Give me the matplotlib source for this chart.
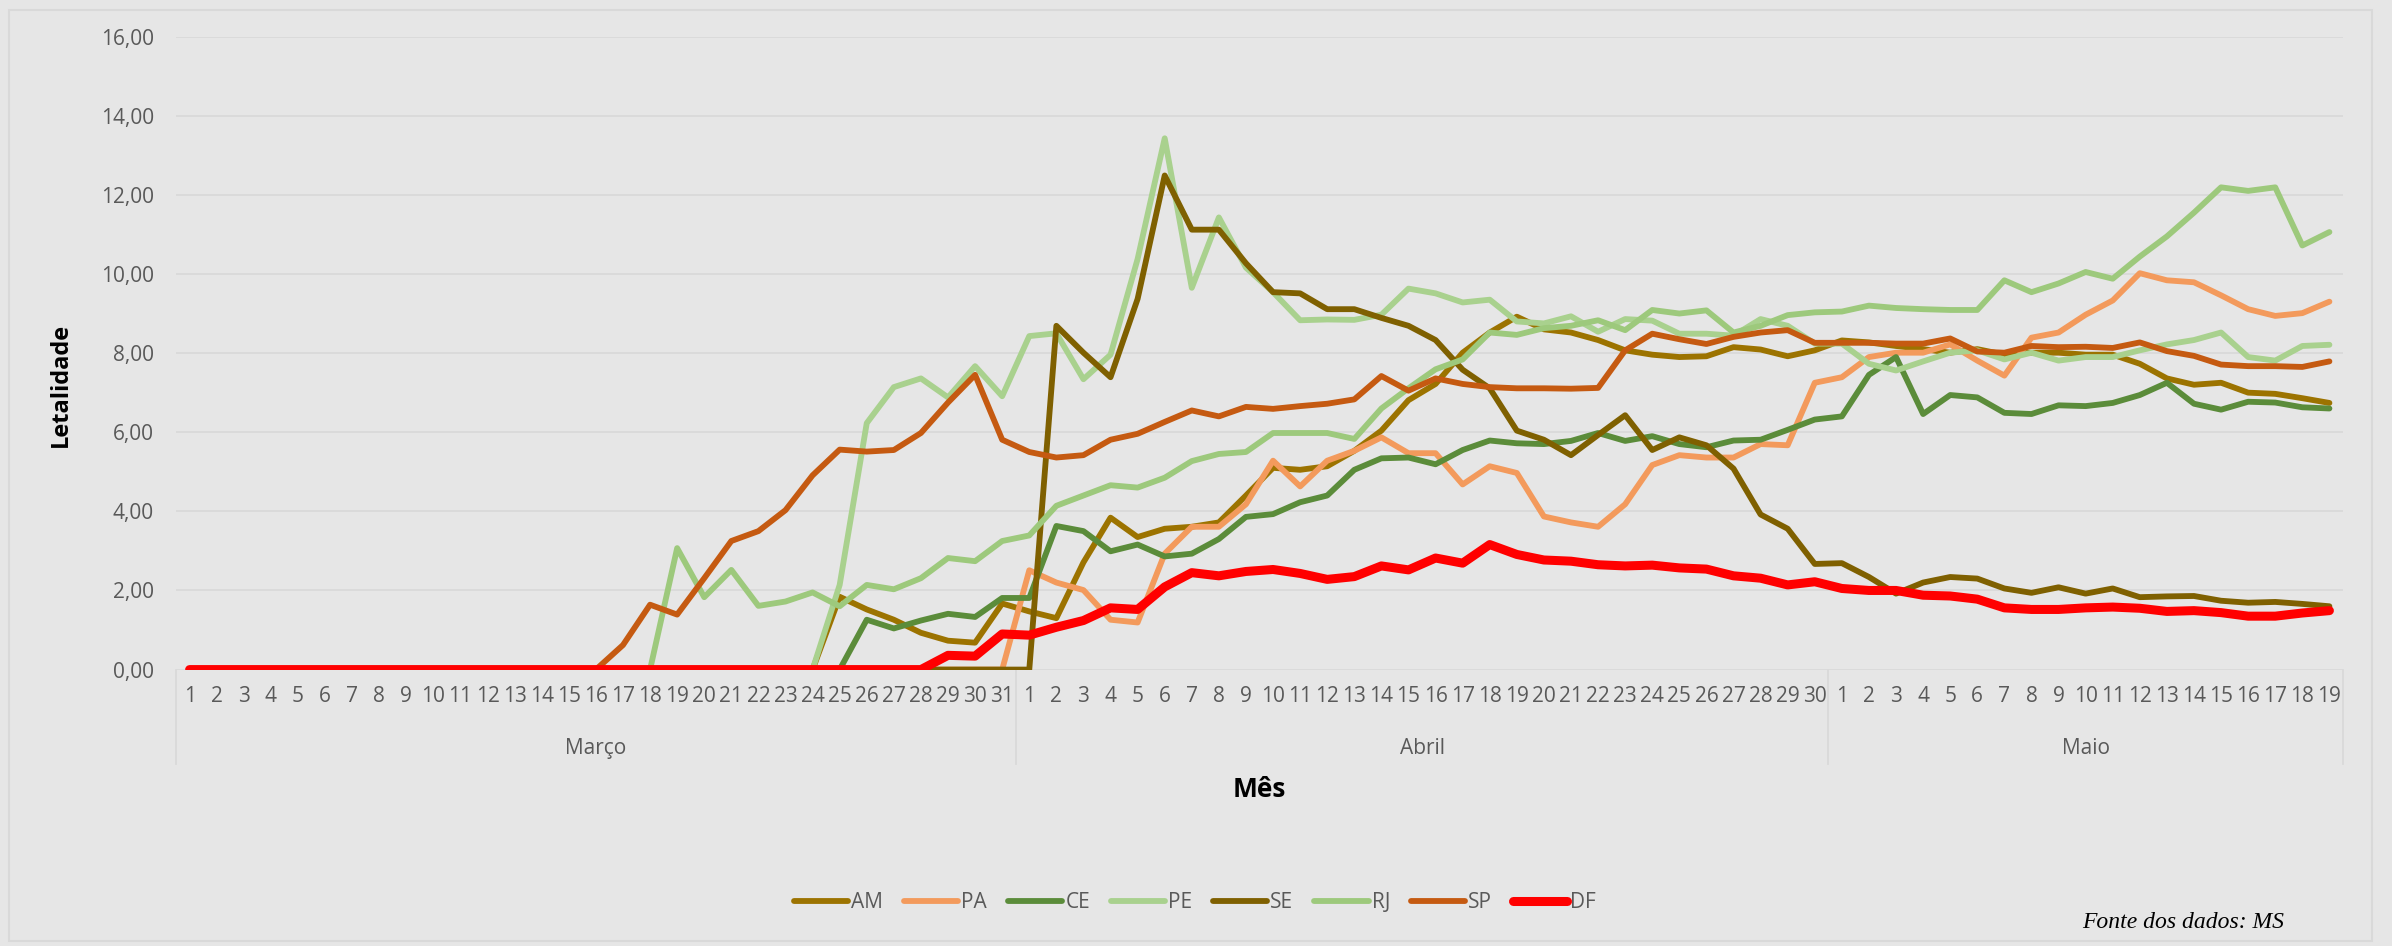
import matplotlib.pyplot as plt
from matplotlib.patches import Rectangle
from matplotlib.lines import Line2D

plt.rcParams["font.family"] = ["Open Sans", "DejaVu Sans"]

# dias: 31 de março, 30 de abril, 19 de maio
meses = ["Março", "Abril", "Maio"]
dias_por_mes = [31, 30, 19]
dias = [str(d) for n in dias_por_mes for d in range(1, n + 1)]

estados = ["AM", "PA", "CE", "PE", "SE", "RJ", "SP", "DF"]
cores = ["#9C7300", "#F39A5C", "#5B8C3A", "#A9D18E",
         "#7F6000", "#9DC97C", "#C55A11", "#FF0000"]

am = [0, 0, 0, 0, 0, 0, 0, 0, 0, 0, 0, 0, 0, 0, 0, 0, 0, 0, 0, 0, 0, 0, 0, 0,
      1.84, 1.52, 1.26, 0.93, 0.73, 0.68, 1.67,
      1.47, 1.30, 2.71, 3.84, 3.35, 3.56, 3.61, 3.72, 4.40, 5.10, 5.05, 5.14, 5.53, 6.04, 6.81,
      7.22, 8.01, 8.52, 8.92, 8.60, 8.52, 8.33, 8.07, 7.96, 7.90, 7.92, 8.15, 8.09, 7.92, 8.07,
      8.32, 8.27, 8.18, 8.10, 8.01, 8.10, 7.96, 8.01, 8.01, 7.96, 7.96, 7.73, 7.36, 7.20, 7.25,
      7.00, 6.97, 6.86, 6.74]
pa = [0, 0, 0, 0, 0, 0, 0, 0, 0, 0, 0, 0, 0, 0, 0, 0, 0, 0, 0, 0, 0, 0, 0, 0, 0, 0, 0, 0, 0, 0, 0,
      2.51, 2.20, 2.01, 1.26, 1.19, 2.93, 3.61, 3.61, 4.18, 5.28, 4.63, 5.28, 5.53, 5.87, 5.47,
      5.47, 4.68, 5.14, 4.97, 3.87, 3.72, 3.61, 4.18, 5.17, 5.42, 5.36, 5.36, 5.70, 5.67, 7.25,
      7.39, 7.90, 8.01, 8.01, 8.22, 7.81, 7.43, 8.39, 8.52, 8.97, 9.33, 10.02, 9.84, 9.79, 9.46,
      9.11, 8.94, 9.01, 9.30]
ce = [0, 0, 0, 0, 0, 0, 0, 0, 0, 0, 0, 0, 0, 0, 0, 0, 0, 0, 0, 0, 0, 0, 0, 0, 0,
      1.26, 1.04, 1.24, 1.41, 1.33, 1.81,
      1.81, 3.63, 3.50, 2.99, 3.16, 2.86, 2.93, 3.30, 3.86, 3.93, 4.23, 4.40, 5.05, 5.34, 5.36,
      5.19, 5.55, 5.79, 5.72, 5.70, 5.78, 5.98, 5.78, 5.90, 5.70, 5.62, 5.79, 5.81, 6.06, 6.32,
      6.40, 7.45, 7.90, 6.46, 6.94, 6.88, 6.49, 6.46, 6.68, 6.66, 6.74, 6.94, 7.25, 6.72, 6.57,
      6.77, 6.75, 6.63, 6.60]
pe = [0, 0, 0, 0, 0, 0, 0, 0, 0, 0, 0, 0, 0, 0, 0, 0, 0, 0, 0, 0, 0, 0, 0, 0,
      2.14, 6.23, 7.14, 7.36, 6.88, 7.67, 6.91,
      8.43, 8.50, 7.34, 7.96, 10.38, 13.43, 9.65, 11.43, 10.16, 9.54, 8.83, 8.85, 8.84, 8.97, 9.63,
      9.51, 9.28, 9.35, 8.80, 8.75, 8.93, 8.54, 8.86, 8.82, 8.49, 8.49, 8.44, 8.86, 8.69, 8.24,
      8.24, 7.73, 7.56, 7.79, 8.01, 8.07, 7.84, 8.01, 7.81, 7.90, 7.90, 8.07, 8.22, 8.33, 8.52,
      7.90, 7.81, 8.18, 8.21]
se = [0, 0, 0, 0, 0, 0, 0, 0, 0, 0, 0, 0, 0, 0, 0, 0, 0, 0, 0, 0, 0, 0, 0, 0, 0, 0, 0, 0, 0, 0, 0,
      0, 8.69, 8.01, 7.39, 9.37, 12.49, 11.12, 11.12, 10.27, 9.54, 9.51, 9.11, 9.11, 8.89, 8.69,
      8.33, 7.58, 7.11, 6.04, 5.81, 5.42, 5.93, 6.43, 5.55, 5.87, 5.67, 5.08, 3.92, 3.56, 2.67,
      2.69, 2.34, 1.92, 2.20, 2.34, 2.30, 2.05, 1.94, 2.08, 1.92, 2.05, 1.83, 1.85, 1.86, 1.74,
      1.69, 1.71, 1.66, 1.60]
rj = [0, 0, 0, 0, 0, 0, 0, 0, 0, 0, 0, 0, 0, 0, 0, 0, 0, 0,
      3.07, 1.83, 2.52, 1.61, 1.72, 1.95, 1.60, 2.14, 2.03, 2.31, 2.82, 2.74, 3.25,
      3.39, 4.14, 4.40, 4.66, 4.60, 4.85, 5.27, 5.45, 5.50, 5.98, 5.98, 5.98, 5.83, 6.60, 7.11,
      7.59, 7.84, 8.52, 8.46, 8.63, 8.69, 8.83, 8.58, 9.09, 9.00, 9.08, 8.52, 8.69, 8.96, 9.03,
      9.05, 9.20, 9.14, 9.11, 9.09, 9.09, 9.84, 9.54, 9.76, 10.05, 9.88, 10.44, 10.95, 11.55, 12.19,
      12.10, 12.19, 10.72, 11.06]
sp = [0, 0, 0, 0, 0, 0, 0, 0, 0, 0, 0, 0, 0, 0, 0, 0,
      0.62, 1.64, 1.39, 2.31, 3.25, 3.50, 4.03, 4.91, 5.56, 5.51, 5.55, 5.98, 6.75, 7.45, 5.81,
      5.50, 5.36, 5.42, 5.81, 5.96, 6.26, 6.55, 6.40, 6.64, 6.59, 6.66, 6.72, 6.83, 7.42, 7.05,
      7.36, 7.22, 7.14, 7.11, 7.11, 7.10, 7.12, 8.07, 8.49, 8.35, 8.23, 8.41, 8.52, 8.58, 8.26,
      8.26, 8.26, 8.24, 8.24, 8.37, 8.04, 8.01, 8.18, 8.15, 8.16, 8.13, 8.27, 8.05, 7.93, 7.71,
      7.67, 7.67, 7.65, 7.79]
df = [0, 0, 0, 0, 0, 0, 0, 0, 0, 0, 0, 0, 0, 0, 0, 0, 0, 0, 0, 0, 0, 0, 0, 0, 0, 0, 0, 0,
      0.36, 0.34, 0.90,
      0.87, 1.07, 1.24, 1.56, 1.52, 2.09, 2.45, 2.37, 2.48, 2.53, 2.43, 2.28, 2.35, 2.62, 2.52,
      2.82, 2.69, 3.16, 2.91, 2.77, 2.74, 2.65, 2.62, 2.64, 2.57, 2.54, 2.37, 2.31, 2.14, 2.22,
      2.05, 2.00, 2.00, 1.88, 1.86, 1.78, 1.56, 1.52, 1.52, 1.56, 1.58, 1.55, 1.47, 1.49, 1.44,
      1.35, 1.35, 1.43, 1.49]

series = [am, pa, ce, pe, se, rj, sp, df]

bg = "#E6E6E6"
grade = "#D9D9D9"
texto = "#595959"

fig = plt.figure(figsize=(23.92, 9.46), dpi=100, facecolor=bg)
ax = fig.add_axes([0.0736, 0.2922, 0.9059, 0.6691])
ax.set_facecolor(bg)

# moldura do gráfico
fig.patches.append(Rectangle((9 / 2392, 5 / 946), 2363 / 2392, 931 / 946,
                             transform=fig.transFigure, fill=False,
                             edgecolor=grade, linewidth=1.5))

x = list(range(len(dias)))
for nome, valores, cor in zip(estados, series, cores):
    lw = 6.5 if nome == "DF" else 4.2
    ax.plot(x, valores, color=cor, linewidth=lw, label=nome,
            solid_capstyle="round", solid_joinstyle="round", zorder=3)

ax.set_xlim(-0.5, len(dias) - 0.5)
ax.set_ylim(0, 16)
ax.set_yticks(range(0, 17, 2))
ax.set_yticklabels([f"{v:.2f}".replace(".", ",") for v in range(0, 17, 2)],
                   fontsize=15, color=texto)
ax.set_xticks(x)
ax.set_xticklabels(dias, fontsize=15, color=texto)
ax.tick_params(axis="both", length=0)
ax.tick_params(axis="x", pad=12)
ax.tick_params(axis="y", pad=16)
ax.grid(axis="y", color=grade, linewidth=1.3, zorder=0)
for s in ax.spines.values():
    s.set_visible(False)

# separadores e nomes dos meses
trans = ax.get_xaxis_transform()
inicio = -0.5
limites = [inicio]
for n in dias_por_mes:
    limites.append(limites[-1] + n)
for b in limites:
    ax.add_line(Line2D([b, b], [0, -0.1485], transform=trans, color=grade,
                       linewidth=1.3, clip_on=False))
for m, a, b in zip(meses, limites[:-1], limites[1:]):
    ax.text((a + b) / 2, -0.124, m, transform=trans, ha="center", va="center",
            fontsize=15, color=texto)

ax.set_ylabel("Letalidade", fontsize=17, fontweight="bold", labelpad=22)
ax.yaxis.set_label_coords(-0.0475, 0.45)
ax.text(0.5, -0.189, "Mês", transform=ax.transAxes, ha="center", va="center",
        fontsize=19, fontweight="bold")

fig.legend(loc="center", bbox_to_anchor=(0.4996, 0.0455), ncol=8, frameon=False,
           fontsize=15, handlelength=2.6, handletextpad=0.15, columnspacing=1.0,
           labelcolor=texto)

fig.text(2284 / 2392, 1 - 922 / 946, "Fonte dos dados: MS", ha="right", va="center",
         fontsize=17, style="italic", family="Liberation Serif")

fig.savefig("out.png", dpi=100, facecolor=bg)
